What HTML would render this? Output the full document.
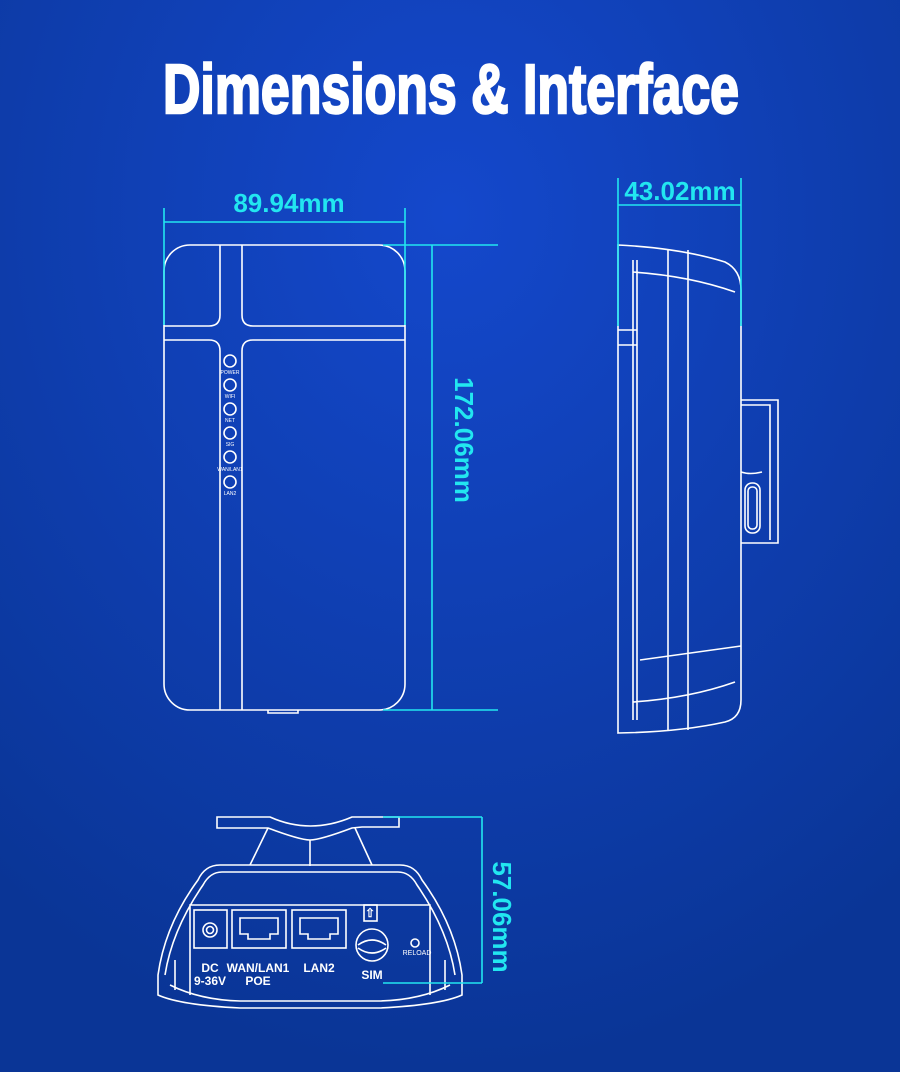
<!DOCTYPE html>
<html><head><style>
html,body{margin:0;padding:0;}
body{width:900px;height:1072px;overflow:hidden;background:linear-gradient(170deg,#1246c8 0%,#0c3aa8 50%,#0a3597 100%);}
svg{display:block}
</style></head><body>
<svg width="900" height="1072" viewBox="0 0 900 1072" xmlns="http://www.w3.org/2000/svg">
<defs>
<radialGradient id="g" cx="0.5" cy="0.2" r="0.8"><stop offset="0" stop-color="#1448cc"/><stop offset="1" stop-color="#0a3596"/></radialGradient>
</defs>
<rect width="900" height="1072" fill="url(#g)"/>
<text x="451" y="113" text-anchor="middle" font-family="Liberation Sans, sans-serif" font-weight="bold" font-size="70" fill="#fff" stroke="#fff" stroke-width="2.5" textLength="576" lengthAdjust="spacingAndGlyphs">Dimensions &amp; Interface</text>

<g fill="none" stroke="#fff" stroke-width="1.6">
<!-- front -->
<rect x="164" y="245" width="241" height="465" rx="26"/>
<path d="M220 245 V315 Q220 326 209 326 H164 M242 245 V315 Q242 326 253 326 H405 M164 340 H209 Q220 340 220 351 V710 M242 710 V351 Q242 340 253 340 H405"/>
<circle cx="230" cy="361" r="6"/><circle cx="230" cy="385" r="6"/><circle cx="230" cy="409" r="6"/>
<circle cx="230" cy="433" r="6"/><circle cx="230" cy="457" r="6"/><circle cx="230" cy="482" r="6"/>
<path d="M268 710 v3 h30 v-3"/>
<!-- side -->
<path d="M618 245 Q680 248 725 262 Q741 270 741 290 V700 Q741 718 725 722 Q680 732 618 733 Z"/>
<path d="M633 260 V720 M637 260 V720 M668 250 V730 M688 250 V730 M633 272 Q690 276 735 292 M633 702 Q690 698 735 682 M640 660 L741 646 M618 330 H637 M618 345 H637"/>
<path d="M741 400 H778 V543 H741 M741 405 H770 V540 M762 472 Q750 475 741 472"/>
<rect x="745" y="483" width="15" height="50" rx="7"/><rect x="748" y="487" width="9" height="42" rx="4"/>
<!-- bottom -->
<path d="M217 817 H270 Q310 835 352 817 H399 V827 H362 L352 828 Q320 840 310 840 Q300 840 268 828 H217 Z"/>
<path d="M268 828 L250 865 M355 828 L372 865 M310 840 V866"/>
<path d="M158 975 Q165 925 198 880 Q205 865 220 865 H400 Q415 865 422 880 Q455 925 462 975 V995 Q440 1005 380 1008 H240 Q180 1005 158 995 Z"/>
<path d="M165 975 Q172 930 203 885 Q210 872 222 872 H398 Q410 872 417 885 Q448 930 455 975 M175 990 V960 M445 990 V960 M190 995 V905 H430 V995"/>
<path d="M170 985 Q200 1000 240 1001 H380 Q420 1000 450 985"/>
<rect x="194" y="910" width="33" height="38"/><circle cx="210" cy="930" r="7"/><circle cx="210" cy="930" r="3.5"/>
<rect x="232" y="910" width="54" height="38"/><path d="M240 918 h38 v16 h-8 v5 h-22 v-5 h-8 z"/>
<rect x="292" y="910" width="54" height="38"/><path d="M300 918 h38 v16 h-8 v5 h-22 v-5 h-8 z"/>
<rect x="364" y="905" width="13" height="16"/>
<circle cx="372" cy="945" r="16"/><path d="M358 945 Q372 935 386 945 M358 948 Q372 958 386 948"/>
<circle cx="415" cy="943" r="4"/>
</g>
<g font-family="Liberation Sans, sans-serif" fill="#fff" text-anchor="middle">
<g font-size="5"><text x="230" y="374">POWER</text><text x="230" y="398">WIFI</text><text x="230" y="422">NET</text><text x="230" y="446">SIG</text><text x="230" y="471">WAN/LAN1</text><text x="230" y="495">LAN2</text></g>
<g font-size="12" font-weight="bold"><text x="210" y="972">DC</text><text x="210" y="985">9-36V</text><text x="258" y="972">WAN/LAN1</text><text x="258" y="985">POE</text><text x="319" y="972">LAN2</text><text x="372" y="979">SIM</text></g>
<text x="417" y="955" font-size="7">RELOAD</text>
<text x="370" y="917" font-size="12" font-weight="bold">⇧</text>
</g>

<g stroke="#22e6f0" stroke-width="1.6" fill="none">
<path d="M164 208 V325 M405 208 V325 M164 222 H405"/>
<path d="M383 245 H498 M383 710 H498 M432 245 V710"/>
<path d="M618 178 V326 M741 178 V326 M618 205 H741"/>
<path d="M383 817 H482 M383 983 H482 M482 817 V983"/>
</g>
<g font-family="Liberation Sans, sans-serif" font-size="26" font-weight="bold" fill="#22e6f0" text-anchor="middle">
<text x="289" y="212">89.94mm</text>
<text x="680" y="200">43.02mm</text>
<text transform="translate(455,440) rotate(90)">172.06mm</text>
<text transform="translate(493,917) rotate(90)">57.06mm</text>
</g>
</svg>
</body></html>
